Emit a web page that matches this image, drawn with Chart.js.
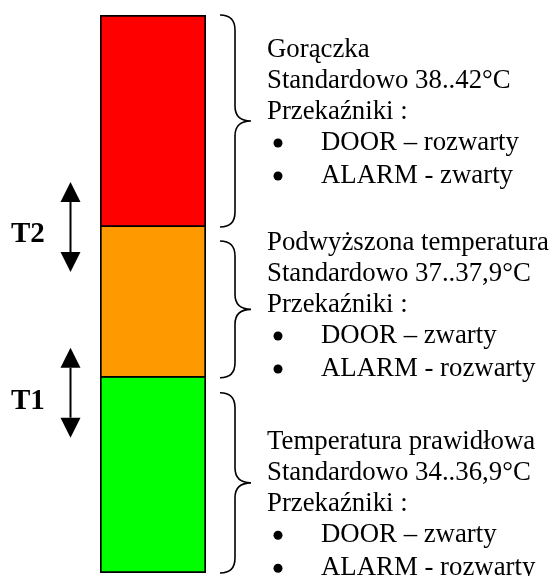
<!DOCTYPE html>
<html>
<head>
<meta charset="utf-8">
<script src="https://cdn.jsdelivr.net/npm/chart.js@4/dist/chart.umd.min.js"></script>
<style>
  html, body { margin: 0; padding: 0; background: #ffffff; }
  #wrap { width: 549px; height: 576px; position: relative; }
</style>
</head>
<body>
<div id="wrap"><canvas id="c" width="549" height="576"></canvas></div>
<script>
// ---- data ----
const categories = ['Temperatura'];
const zoneNames = ['Temperatura prawidłowa', 'Podwyższona temperatura', 'Gorączka'];
const zoneHeights = [3.5, 2.7, 3.8];           // relative band heights (bottom → top)
const zoneRanges = ['34..36,9°C', '37..37,9°C', '38..42°C'];
const doorStates = ['zwarty', 'zwarty', 'rozwarty'];
const alarmStates = ['rozwarty', 'rozwarty', 'zwarty'];
const thresholdLabels = ['T1', 'T2'];
const yTicks = [0, 10];

// ---- styles ----
const zoneColors = ['#00FF00', '#FF9900', '#FF0000'];
const FONT = '"Liberation Serif", "Times New Roman", serif';

const datasets = zoneNames.map((name, i) => ({
  label: name,
  data: [zoneHeights[i]],
  backgroundColor: zoneColors[i],
  borderColor: '#000000',
  borderWidth: i === zoneNames.length - 1 ? 2 : { top: 0, left: 2, right: 2, bottom: 2 },
  borderSkipped: false,
  barPercentage: 1,
  categoryPercentage: 1,
  stack: 's'
}));

function drawBrace(ctx, top, bottom) {
  const x0 = 220, x1 = 235, x2 = 251, r = 15;
  const mid = (top + bottom) / 2;
  ctx.beginPath();
  ctx.moveTo(x0, top);
  ctx.quadraticCurveTo(x1, top, x1, top + r);
  ctx.lineTo(x1, mid - r);
  ctx.quadraticCurveTo(x1, mid, x2, mid);
  ctx.quadraticCurveTo(x1, mid, x1, mid + r);
  ctx.lineTo(x1, bottom - r);
  ctx.quadraticCurveTo(x1, bottom, x0, bottom);
  ctx.stroke();
}

function drawArrow(ctx, cx, cy) {
  const half = 45, head = 20, hw = 10;
  ctx.beginPath();
  ctx.moveTo(cx, cy - half + head);
  ctx.lineTo(cx, cy + half - head);
  ctx.stroke();
  ctx.beginPath();
  ctx.moveTo(cx, cy - half);
  ctx.lineTo(cx - hw, cy - half + head);
  ctx.lineTo(cx + hw, cy - half + head);
  ctx.closePath();
  ctx.fill();
  ctx.beginPath();
  ctx.moveTo(cx, cy + half);
  ctx.lineTo(cx - hw, cy + half - head);
  ctx.lineTo(cx + hw, cy + half - head);
  ctx.closePath();
  ctx.fill();
}

const annotations = {
  id: 'annotations',
  afterDraw(chart) {
    const ctx = chart.ctx;
    const bars = zoneNames.map((_, i) => chart.getDatasetMeta(i).data[0]);
    const seg = bars.map(b => ({ top: Math.min(b.y, b.base), bottom: Math.max(b.y, b.base) }));
    ctx.save();
    ctx.strokeStyle = '#000';
    ctx.fillStyle = '#000';
    ctx.lineWidth = 1.6;

    // braces (bottom → top zones)
    const braceTopOffset = [15, 14, 0];
    const textStartOffset = [71, 22.5, 41.5];
    const lineOffsets = [0, 31.5, 62, 93.5, 126.5];
    zoneNames.forEach((name, i) => {
      const top = seg[i].top + braceTopOffset[i];
      const bottom = seg[i].bottom;
      drawBrace(ctx, top, bottom);
      const base = seg[i].top + textStartOffset[i];
      ctx.font = '26.8px ' + FONT;
      ctx.textBaseline = 'alphabetic';
      ctx.textAlign = 'left';
      ctx.fillText(name, 267, base + lineOffsets[0]);
      ctx.fillText('Standardowo ' + zoneRanges[i], 267, base + lineOffsets[1]);
      ctx.fillText('Przekaźniki :', 267, base + lineOffsets[2]);
      ctx.fillText('DOOR – ' + doorStates[i], 321, base + lineOffsets[3]);
      ctx.fillText('ALARM - ' + alarmStates[i], 321, base + lineOffsets[4]);
      [3, 4].forEach(k => {
        ctx.beginPath();
        ctx.arc(278, base + lineOffsets[k] - 7, 4.5, 0, Math.PI * 2);
        ctx.fill();
      });
    });

    // threshold arrows
    ctx.lineWidth = 2;
    const arrowCenters = [seg[0].top + 15, seg[1].top];
    const labelOffsets = [16, 14.5];
    thresholdLabels.forEach((t, i) => {
      drawArrow(ctx, 70.5, arrowCenters[i]);
      ctx.font = 'bold 29px ' + FONT;
      ctx.textAlign = 'left';
      ctx.fillText(t, 11, arrowCenters[i] + labelOffsets[i]);
    });
    ctx.restore();
  }
};

new Chart(document.getElementById('c'), {
  type: 'bar',
  data: { labels: categories, datasets },
  options: {
    responsive: false,
    animation: false,
    events: [],
    layout: { padding: { left: 100, right: 343, top: 15, bottom: 3 } },
    plugins: { legend: { display: false }, tooltip: { enabled: false } },
    scales: {
      x: { display: false, stacked: true },
      y: { display: false, stacked: true, min: yTicks[0], max: yTicks[1] }
    }
  },
  plugins: [annotations]
});
</script>
</body>
</html>
